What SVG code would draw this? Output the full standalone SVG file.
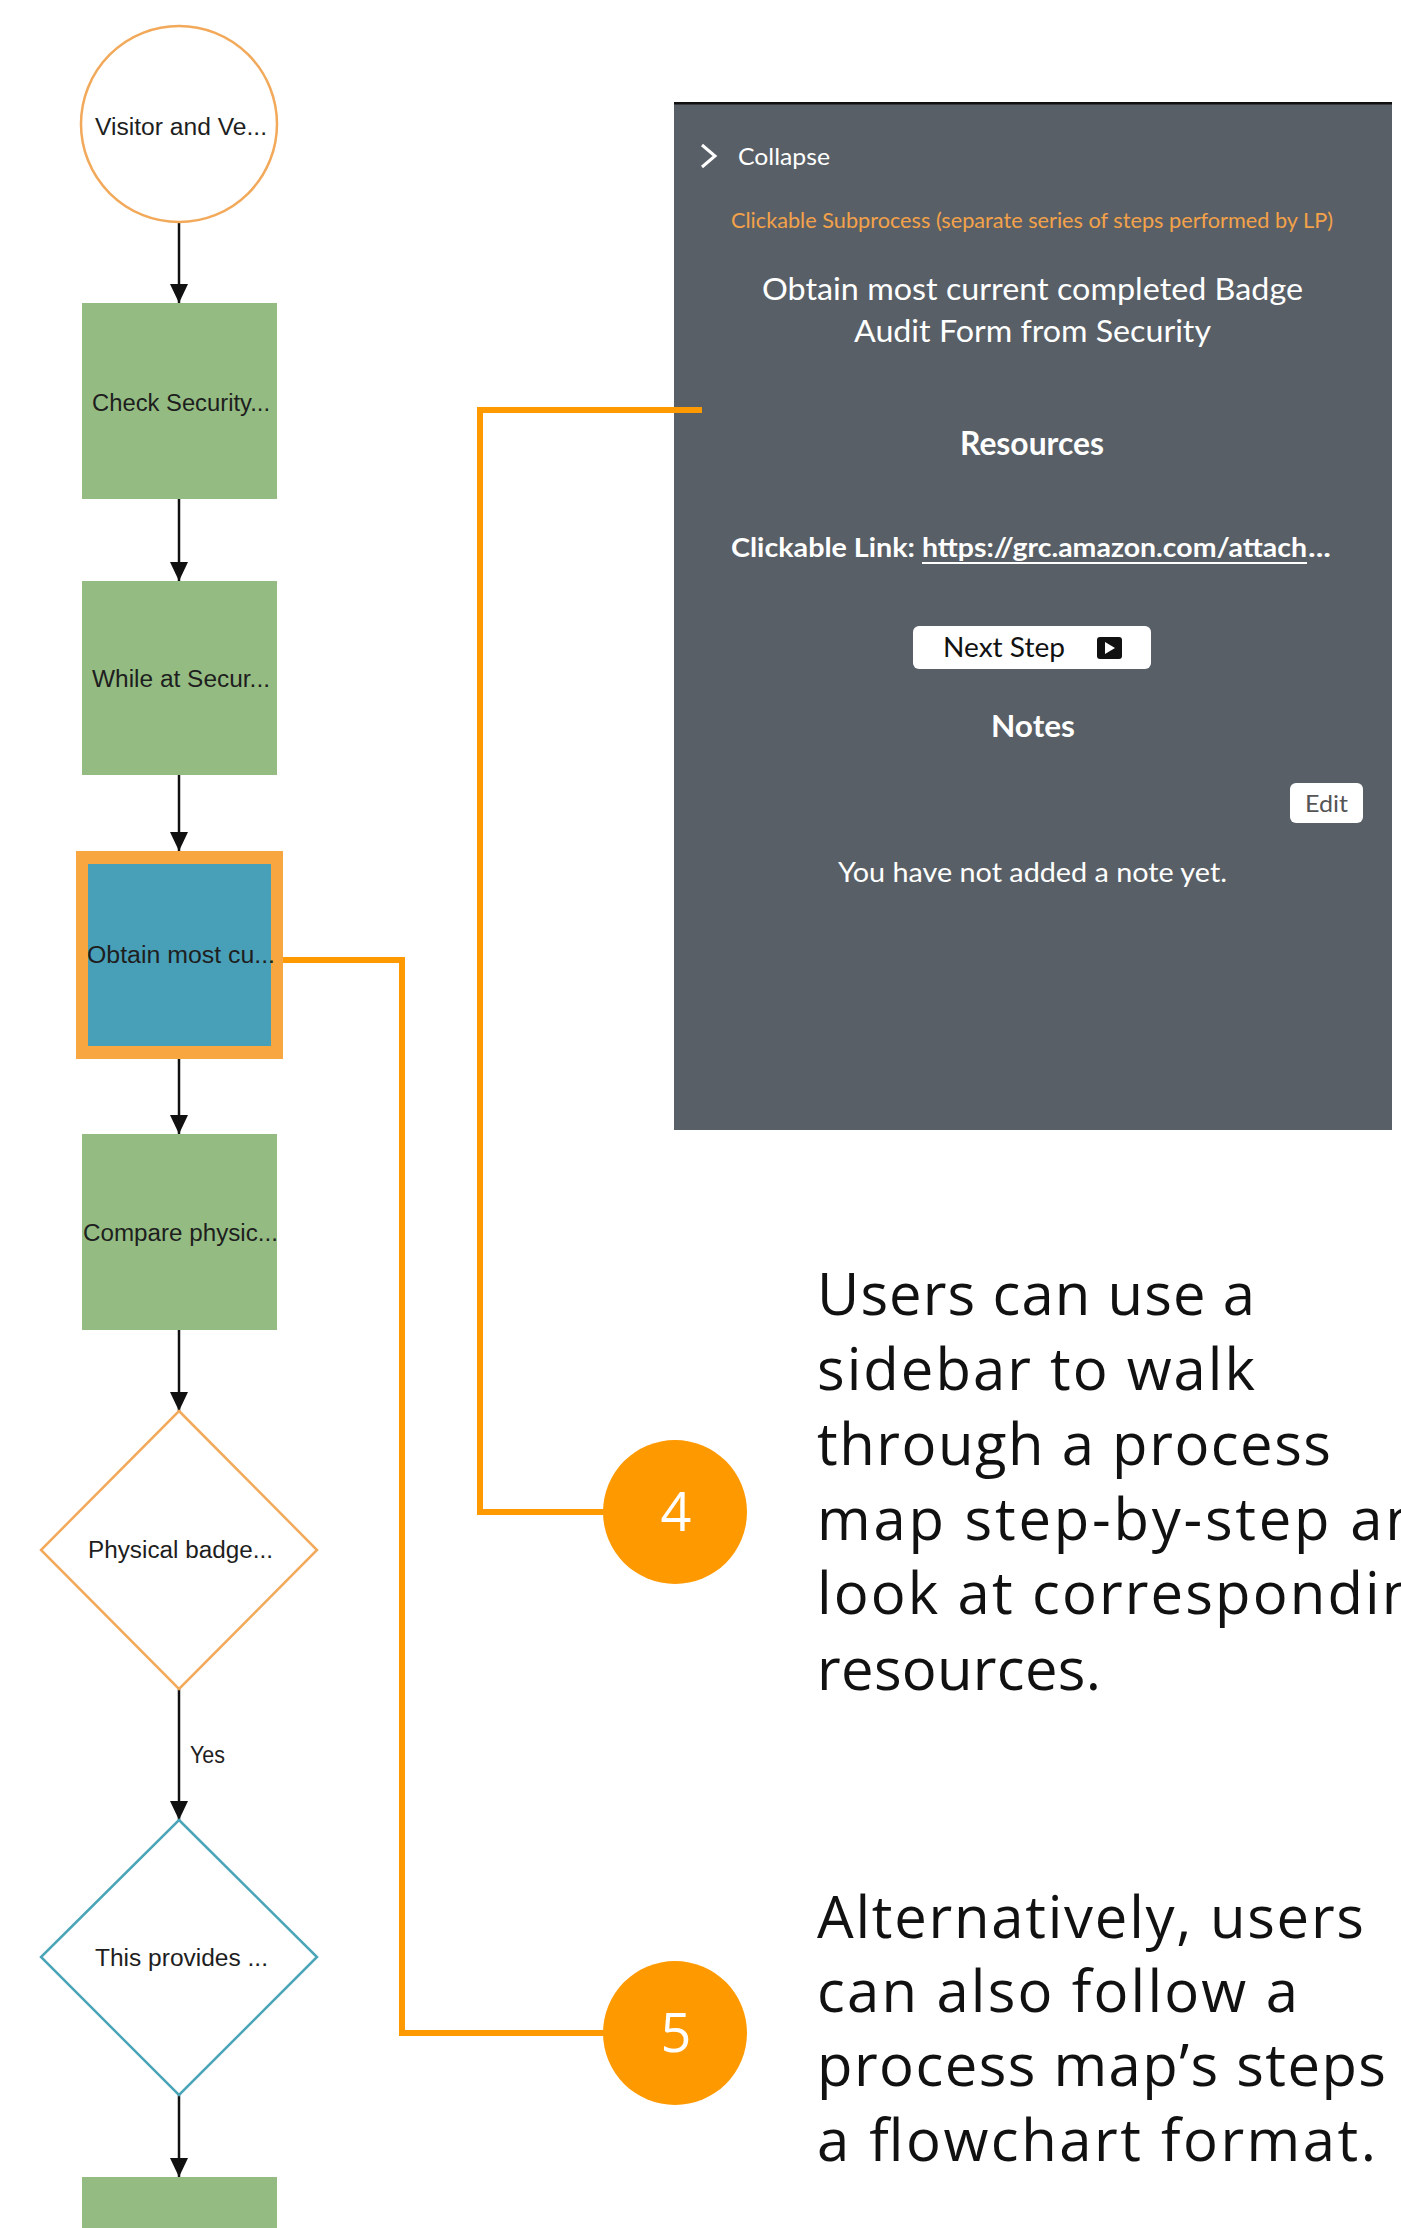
<svg xmlns="http://www.w3.org/2000/svg" width="1401" height="2228" viewBox="0 0 1401 2228">
<defs>
<style>
.fc{font-family:"Liberation Sans",Arial,sans-serif;font-size:23px;fill:#1e1e1e}
.sb{font-family:Lato,"Open Sans",sans-serif;fill:#ffffff}
.body{font-family:"Open Sans",sans-serif;font-size:58px;fill:#111111}
.num{font-family:"Open Sans",sans-serif;font-size:54px;fill:#ffffff;text-anchor:middle}
.green{fill:#94bc82}
.flow{stroke:#111;stroke-width:2.5;fill:none}
.callout{stroke:#ff9900;stroke-width:6;fill:none}
</style>
<marker id="ah" markerUnits="userSpaceOnUse" markerWidth="20" markerHeight="18" refX="19" refY="9" orient="auto">
<path d="M0,0 L19,9 L0,18 z" fill="#111"/>
</marker>
</defs>
<rect width="1401" height="2228" fill="#ffffff"/>

<g id="connectors">
<line class="flow" x1="179" y1="223" x2="179" y2="303" marker-end="url(#ah)"/>
<line class="flow" x1="179" y1="499" x2="179" y2="581" marker-end="url(#ah)"/>
<line class="flow" x1="179" y1="775" x2="179" y2="851" marker-end="url(#ah)"/>
<line class="flow" x1="179" y1="1059" x2="179" y2="1134" marker-end="url(#ah)"/>
<line class="flow" x1="179" y1="1330" x2="179" y2="1411" marker-end="url(#ah)"/>
<line class="flow" x1="179" y1="1689" x2="179" y2="1820" marker-end="url(#ah)"/>
<text class="fc" x="190" y="1763" textLength="35" lengthAdjust="spacingAndGlyphs">Yes</text>
<line class="flow" x1="179" y1="2095" x2="179" y2="2177" marker-end="url(#ah)"/>
</g>

<g id="n-visitor">
<circle cx="179" cy="124" r="98" fill="#fff" stroke="#f2a95a" stroke-width="2.5"/>
<text class="fc" x="95" y="135" textLength="172" lengthAdjust="spacingAndGlyphs">Visitor and Ve...</text>
</g>
<g id="n-check">
<rect class="green" x="82" y="303" width="195" height="196"/>
<text class="fc" x="92" y="411" textLength="178" lengthAdjust="spacingAndGlyphs">Check Security...</text>
</g>
<g id="n-while">
<rect class="green" x="82" y="581" width="195" height="194"/>
<text class="fc" x="92" y="687" textLength="178" lengthAdjust="spacingAndGlyphs">While at Secur...</text>
</g>
<g id="n-obtain">
<rect x="76" y="851" width="207" height="208" fill="#f8a640"/>
<rect x="88" y="864" width="183" height="182" fill="#48a0b8"/>
<text class="fc" x="87" y="963" textLength="188" lengthAdjust="spacingAndGlyphs">Obtain most cu...</text>
</g>
<g id="n-compare">
<rect class="green" x="82" y="1134" width="195" height="196"/>
<text class="fc" x="83" y="1241" textLength="195" lengthAdjust="spacingAndGlyphs">Compare physic...</text>
</g>
<g id="n-physical">
<polygon points="179,1411 317,1550 179,1689 41,1550" fill="#fff" stroke="#f2a95a" stroke-width="2.5"/>
<text class="fc" x="88" y="1558" textLength="185" lengthAdjust="spacingAndGlyphs">Physical badge...</text>
</g>
<g id="n-provides">
<polygon points="179,1820 317,1957 179,2095 41,1957" fill="#fff" stroke="#4aa5b8" stroke-width="2.5"/>
<text class="fc" x="95" y="1966" textLength="173" lengthAdjust="spacingAndGlyphs">This provides ...</text>
</g>
<g id="n-next">
<rect class="green" x="82" y="2177" width="195" height="60"/>
</g>

<g id="sidebar">
<rect x="674" y="104" width="718" height="1026" fill="#595f66"/>
<rect x="674" y="102" width="718" height="2.5" fill="#111"/>
<polyline points="702,145 715,156 702,167" fill="none" stroke="#fff" stroke-width="3"/>
<text class="sb" x="738" y="165" font-size="24" textLength="92" lengthAdjust="spacingAndGlyphs">Collapse</text>
<text class="sb" x="731" y="228" font-size="22" fill="#f3a24a" style="fill:#f3a24a" textLength="602" lengthAdjust="spacingAndGlyphs">Clickable Subprocess (separate series of steps performed by LP)</text>
<text class="sb" x="762" y="300" font-size="31" textLength="541" lengthAdjust="spacingAndGlyphs">Obtain most current completed Badge</text>
<text class="sb" x="854" y="342" font-size="31" textLength="357" lengthAdjust="spacingAndGlyphs">Audit Form from Security</text>
<text class="sb" x="960" y="455" font-size="32" font-weight="bold" textLength="144" lengthAdjust="spacingAndGlyphs">Resources</text>
<text class="sb" x="731" y="557" font-size="27" font-weight="bold" textLength="184" lengthAdjust="spacingAndGlyphs">Clickable Link:</text>
<text class="sb" x="922" y="557" font-size="27" font-weight="bold" textLength="385" lengthAdjust="spacingAndGlyphs">https://grc.amazon.com/attach</text>
<text class="sb" x="1308" y="557" font-size="27" font-weight="bold" textLength="23" lengthAdjust="spacingAndGlyphs">...</text>
<line x1="922" y1="563" x2="1307" y2="563" stroke="#fff" stroke-width="2"/>
<rect x="913" y="626" width="238" height="43" rx="6" fill="#fff"/>
<text class="sb" x="943" y="657" font-size="27" style="fill:#111" textLength="122" lengthAdjust="spacingAndGlyphs">Next Step</text>
<rect x="1097" y="637" width="25" height="22" rx="3" fill="#111"/>
<polygon points="1105,642 1115,648 1105,654" fill="#fff"/>
<text class="sb" x="991" y="737" font-size="31" font-weight="bold" textLength="84" lengthAdjust="spacingAndGlyphs">Notes</text>
<rect x="1290" y="783" width="73" height="40" rx="6" fill="#fff"/>
<text class="sb" x="1305" y="812" font-size="23" style="fill:#555" textLength="43" lengthAdjust="spacingAndGlyphs">Edit</text>
<text class="sb" x="838" y="882" font-size="27" textLength="389" lengthAdjust="spacingAndGlyphs">You have not added a note yet.</text>
</g>

<g id="callouts">
<polyline class="callout" points="702,410 480,410 480,1512 610,1512"/>
<polyline class="callout" points="283,960 402,960 402,2033 610,2033"/>
</g>

<g id="badge-4">
<circle cx="675" cy="1512" r="72" fill="#ff9900"/>
<text class="num" x="676" y="1531">4</text>
</g>
<g id="badge-5">
<circle cx="675" cy="2033" r="72" fill="#ff9900"/>
<text class="num" x="676" y="2052">5</text>
</g>

<g id="text-4">
<text class="body" x="817" y="1315" textLength="438">Users can use a</text>
<text class="body" x="817" y="1390" textLength="438">sidebar to walk</text>
<text class="body" x="817" y="1465" textLength="514">through a process</text>
<text class="body" x="817" y="1540" textLength="642">map step-by-step and</text>
<text class="body" x="817" y="1614" textLength="634">look at corresponding</text>
<text class="body" x="817" y="1690" textLength="284">resources.</text>
</g>
<g id="text-5">
<text class="body" x="817" y="1938" textLength="547">Alternatively, users</text>
<text class="body" x="817" y="2012" textLength="481">can also follow a</text>
<text class="body" x="817" y="2086" textLength="569">process map’s steps</text>
<text class="body" x="817" y="2161" textLength="559">a flowchart format.</text>
</g>
</svg>
